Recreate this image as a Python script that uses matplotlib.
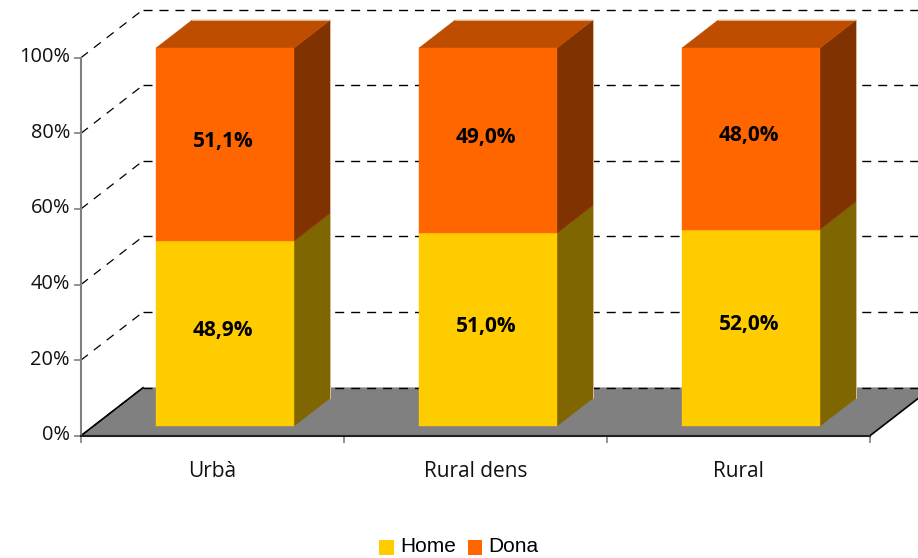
import numpy as np
import matplotlib
matplotlib.use('Agg')
import matplotlib.pyplot as plt
from matplotlib.patches import Polygon, Patch
from matplotlib.transforms import ScaledTranslation

categorias = ['Urbà', 'Rural dens', 'Rural']
home = [48.9, 51.0, 52.0]
dona = [51.1, 49.0, 48.0]
etiq_home = ['48,9%', '51,0%', '52,0%']
etiq_dona = ['51,1%', '49,0%', '48,0%']
ticks_y = [0, 20, 40, 60, 80, 100]

# Profundidad del falso 3D, en unidades de los ejes
DX = 62 / 263
DY = 48 / 3.78
D0, D1 = 0.2, 0.785
ANCHO = 0.525

plt.rcParams['font.family'] = 'Open Sans'

W, H = 918, 558
fig = plt.figure(figsize=(W / 100, H / 100), dpi=100)
ax = fig.add_axes([81 / W, (H - 435.7) / H, 789 / W, 378 / H])
ax.set_xlim(0, 3)
ax.set_ylim(0, 100)


def p(x, y, d=0.0):
    return (x + d * DX, y + d * DY)


def cara(puntos, color, z):
    ax.add_patch(Polygon(puntos, closed=True, facecolor=color, edgecolor=color,
                         linewidth=0.3, zorder=z, clip_on=False))


# Suelo
cara([p(0, 0), p(3, 0), p(3, 0, 1), p(0, 0, 1)], '#808080', 1)
ax.plot(*zip(p(0, 0), p(0, 0, 1)), color='black', lw=1.2, zorder=2, clip_on=False)
ax.plot(*zip(p(3, 0), p(3, 0, 1)), color='black', lw=1.2, zorder=2, clip_on=False)

# Rejilla discontinua
for t in ticks_y:
    ax.plot(*zip(p(0, t), p(0, t, 1)), color='black', lw=0.9, ls=(0, (7, 6)),
            zorder=2, clip_on=False)
    ax.plot(*zip(p(0, t, 1), p(3, t, 1)), color='black', lw=1.0, ls=(0, (6.5, 5)),
            zorder=2, clip_on=False)

# Barras apiladas
for i in range(len(categorias)):
    x0 = i + 0.5 - ANCHO / 2
    x1 = i + 0.5 + ANCHO / 2
    h = home[i]
    t = home[i] + dona[i]
    cara([p(x1, 0, D0), p(x1, 0, D1), p(x1, h, D1), p(x1, h, D0)], '#806600', 3)
    cara([p(x1, h, D0), p(x1, h, D1), p(x1, t, D1), p(x1, t, D0)], '#803300', 3)
    cara([p(x0, t, D0), p(x1, t, D0), p(x1, t, D1), p(x0, t, D1)], '#BF4D00', 3)
    cara([p(x0, 0, D0), p(x1, 0, D0), p(x1, h, D0), p(x0, h, D0)], '#FFCC00', 4)
    cara([p(x0, h, D0), p(x1, h, D0), p(x1, t, D0), p(x0, t, D0)], '#FF6600', 4)
    # borde claro de atras
    ax.plot(*zip(p(x0, t, D1), p(x1, t, D1), p(x1, 0, D1)), color='#DDBB99', lw=0.7,
            zorder=3, clip_on=False)
    sube = ScaledTranslation(-2 / 100, 3 / 100, fig.dpi_scale_trans)
    cx, cy = p(i + 0.5, h / 2, D0)
    ax.text(cx, cy, etiq_home[i], ha='center', va='center', fontsize=15,
            fontweight='bold', color='black', zorder=5, transform=ax.transData + sube)
    cx, cy = p(i + 0.5, h + dona[i] / 2, D0)
    ax.text(cx, cy, etiq_dona[i], ha='center', va='center', fontsize=15,
            fontweight='bold', color='black', zorder=5, transform=ax.transData + sube)

# Ejes
for s in ['top', 'right']:
    ax.spines[s].set_visible(False)
ax.spines['left'].set_color('#808080')
ax.spines['left'].set_linewidth(1.5)
ax.spines['bottom'].set_color('#202020')
ax.spines['bottom'].set_linewidth(1.5)
ax.set_yticks(ticks_y)
ax.set_yticklabels([f'{t}%' for t in ticks_y], fontsize=14.4, color='#111111')
ax.tick_params(axis='y', length=5, width=1.2, color='#808080', pad=3)
for lab in ax.get_yticklabels():
    lab.set_transform(lab.get_transform() + ScaledTranslation(0, 3 / 100, fig.dpi_scale_trans))
ax.set_xticks([0, 1, 2, 3])
ax.set_xticklabels([])
ax.tick_params(axis='x', length=5, width=1.2, color='#808080')
ax.set_xticks(np.arange(len(categorias)) + 0.5, minor=True)
ax.set_xticklabels(categorias, minor=True, fontsize=15, color='#111111')
ax.tick_params(axis='x', which='minor', length=0, pad=18)

handles = [Patch(facecolor='#FFCC00', label='Home'), Patch(facecolor='#FF6600', label='Dona')]
leg = fig.legend(handles=handles, loc='center', bbox_to_anchor=(459 / W, (H - 546.5) / H), ncol=2,
                 frameon=False, prop={'family': 'Liberation Sans', 'size': 15},
                 handlelength=0.7, handleheight=0.7, handletextpad=0.3, columnspacing=0.55,
                 borderpad=0)
for parche in leg.get_patches():
    parche.set_y(parche.get_y() - 2)

fig.savefig('out.png', dpi=100)
